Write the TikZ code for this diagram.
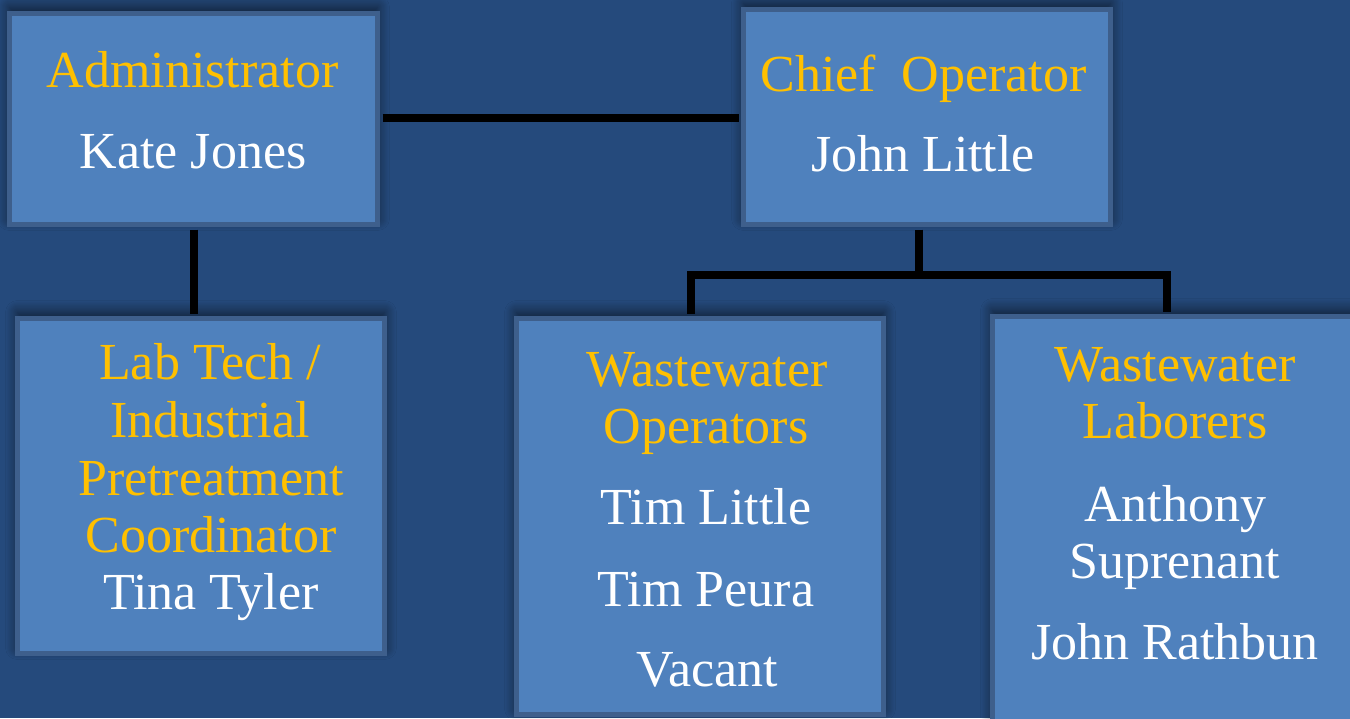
\documentclass[tikz,border=0pt]{standalone}
\usepackage{fontspec}
\setmainfont{Liberation Serif}
\usetikzlibrary{shadows.blur}
\definecolor{bg}{RGB}{37,74,124}
\definecolor{boxfill}{RGB}{79,129,189}
\definecolor{boxedge}{RGB}{62,95,140}
\definecolor{gold}{RGB}{255,192,0}
\tikzset{
  orgbox/.style={draw=boxedge, line width=5pt, fill=boxfill, inner sep=0pt,
    minimum width=367pt,
    blur shadow={shadow xshift=0pt, shadow yshift=6pt, shadow blur radius=12pt, shadow opacity=60, shadow blur steps=12}},
  conn/.style={draw=black, line width=8pt, shorten <=2.5pt, shorten >=2.5pt},
  title/.style={text=gold, anchor=base, inner sep=0pt, font=\fontsize{52}{62}\selectfont},
  person/.style={text=white, anchor=base, inner sep=0pt, font=\fontsize{52}{62}\selectfont},
}
\begin{document}
\begin{tikzpicture}[x=1pt,y=-1pt]
\useasboundingbox (0,0) rectangle (1350,718);
\fill[bg] (0,0) rectangle (1350,718);
\clip (0,0) rectangle (1350,718);
% boxes
\node[orgbox, minimum width=368pt, minimum height=211pt] (admin) at (193.5,119) {};
\node[orgbox, minimum height=215pt] (chief) at (927,117) {};
\node[orgbox, minimum height=335pt] (lab) at (201,486) {};
\node[orgbox, minimum height=396pt] (ops) at (700,516.5) {};
\node[orgbox, minimum height=441pt] (labor) at (1176,537) {};
% connectors
\coordinate (hl) at (560,118);
\coordinate (jc) at (919,275);
\coordinate (jl) at (691,275);
\coordinate (jr) at (1167,275);
\draw[conn] (admin.east |- hl) -- (chief.west |- hl);
\draw[conn] (admin.south) -- (admin.south |- lab.north);
\draw[conn, shorten >=0pt] (chief.south -| jc) -- (jc);
\draw[conn, shorten <=0pt, shorten >=0pt, line cap=rect] (jl) -- (jr);
\draw[conn, shorten <=0pt] (jl) -- (ops.north -| jl);
\draw[conn, shorten <=0pt] (jr) -- (labor.north -| jr);
% texts
\node[title] (t1) at (192.5,87) {Administrator};
\node[person] (p1) at (193,168) {Kate Jones};
\node[title] (t2) at (923.5,91) {Chief\ \ Operator};
\node[person] (p2) at (923,171) {John Little};
\node[title] (t3a) at (210,379) {Lab Tech /};
\node[title] (t3b) at (210,437) {Industrial};
\node[title] (t3c) at (211,495) {Pretreatment};
\node[title] (t3d) at (211,552) {Coordinator};
\node[person] (p3) at (211,609) {Tina Tyler};
\node[title] (t4a) at (707,386) {Wastewater};
\node[title] (t4b) at (706,443) {Operators};
\node[person] (p4a) at (706,524) {Tim Little};
\node[person] (p4b) at (706,606) {Tim Peura};
\node[person] (p4c) at (707,686) {Vacant};
\node[title] (t5a) at (1175,381) {Wastewater};
\node[title] (t5b) at (1175,438) {Laborers};
\node[person] (p5a) at (1175,521) {Anthony};
\node[person] (p5b) at (1175,578) {Suprenant};
\node[person] (p5c) at (1175,659) {John Rathbun};
\end{tikzpicture}
\end{document}
